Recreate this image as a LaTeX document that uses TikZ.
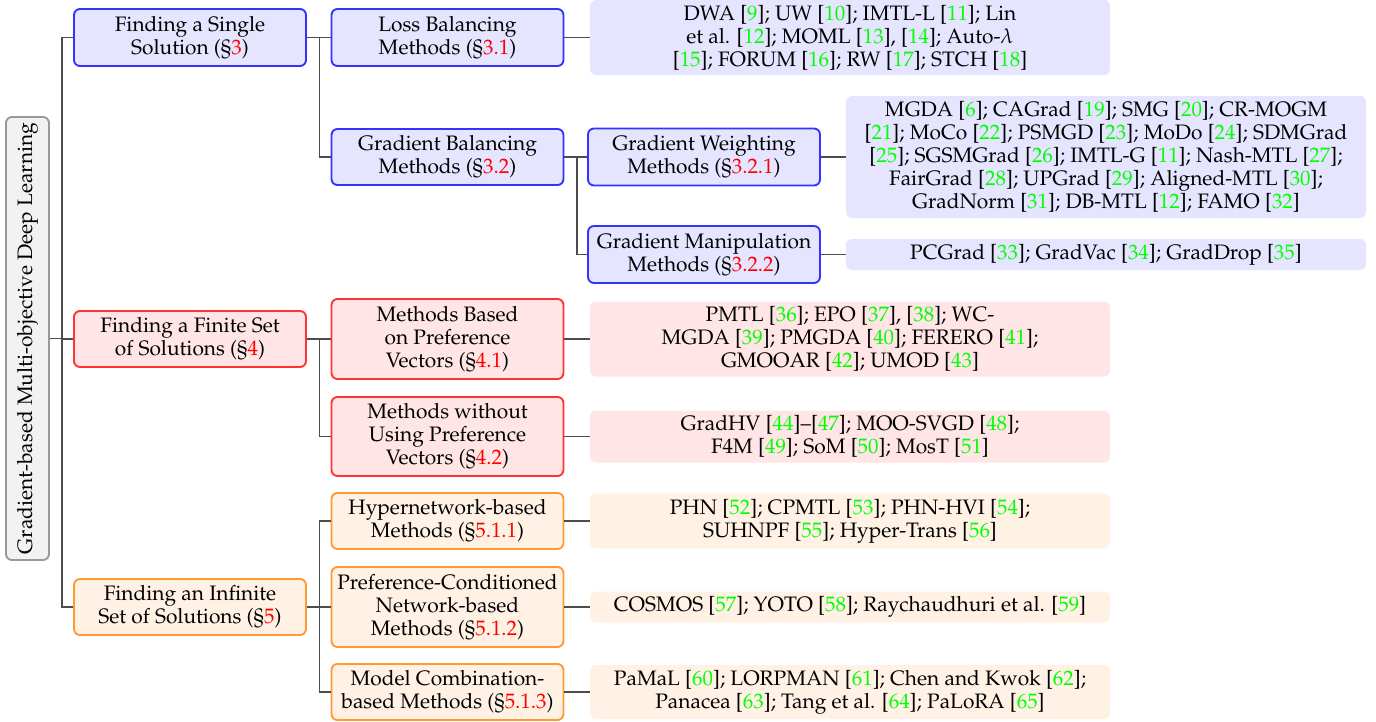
\documentclass[tikz,border=0pt]{standalone}
\usepackage[T1]{fontenc}
\usepackage{mathpazo}
\usepackage{graphicx}
\usetikzlibrary{calc}
\newcommand\myref[1]{[{\color{green}#1}]}
\newcommand\mysec[1]{(\S{\color{red}#1})}
\tikzset{
  basebox/.style={rounded corners=6pt, align=center, inner sep=0pt, font=\fontsize{20.9}{23}\selectfont},
  lvl/.style={basebox, line width=1.9pt, minimum width=232pt},
  bluebox/.style={lvl, draw=blue!80, fill=blue!10},
  redbox/.style={lvl, draw=red!80, fill=red!10},
  orangebox/.style={lvl, draw=orange!80, fill=orange!10},
  rootbox/.style={basebox, draw=gray!80, fill=gray!10, line width=1.9pt},
  leaf/.style={basebox, minimum width=520pt},
  leafblue/.style={leaf, fill=blue!10},
  leafred/.style={leaf, fill=red!10},
  leaforange/.style={leaf, fill=orange!10},
  conn/.style={draw=black!70, line width=1.3pt},
}
\begin{document}
\begin{tikzpicture}[x=1pt,y=-1pt]
\useasboundingbox (0,0) rectangle (1376,721);
% root
\node[rootbox, minimum width=43pt, minimum height=443pt] (root) at (27.5,338.5)
  {\rotatebox{90}{Gradient-based Multi-objective Deep Learning}};
% level 1
\node[bluebox, minimum height=57pt] (s1) at (190,37.5) {Finding a Single\\Solution \mysec{3}};
\node[redbox, minimum height=56pt] (f1) at (190,339) {Finding a Finite Set\\of Solutions \mysec{4}};
\node[orangebox, minimum height=56pt] (i1) at (190,607) {Finding an Infinite\\Set of Solutions \mysec{5}};
% level 2
\node[bluebox, minimum height=57pt] (lb) at (447.5,37.5) {Loss Balancing\\Methods \mysec{3.1}};
\node[bluebox, minimum height=56pt] (gb) at (447.5,157) {Gradient Balancing\\Methods \mysec{3.2}};
\node[redbox, minimum height=80pt] (pv) at (447.5,339) {Methods Based\\on Preference\\Vectors \mysec{4.1}};
\node[redbox, minimum height=79pt] (wp) at (447.5,436.5) {Methods without\\Using Preference\\Vectors \mysec{4.2}};
\node[orangebox, minimum height=56pt] (hn) at (447.5,521) {Hypernetwork-based\\Methods \mysec{5.1.1}};
\node[orangebox, minimum height=80pt] (pc) at (447.5,607) {Preference-Conditioned\\Network-based\\Methods \mysec{5.1.2}};
\node[orangebox, minimum height=56pt] (mc) at (447.5,692) {Model Combination-\\based Methods \mysec{5.1.3}};
% level 3
\node[bluebox, minimum height=57pt] (gw) at (704,157) {Gradient Weighting\\Methods \mysec{3.2.1}};
\node[bluebox, minimum height=57pt] (gm) at (704,254.5) {Gradient Manipulation\\Methods \mysec{3.2.2}};
% leaves
\node[leafblue, minimum height=75pt] (llb) at (850,37.5)
  {DWA \myref{9}; UW \myref{10}; IMTL-L \myref{11}; Lin\\et al. \myref{12}; MOML \myref{13}, \myref{14}; Auto-$\lambda$\\\myref{15}; FORUM \myref{16}; RW \myref{17}; STCH \myref{18}};
\node[leafblue, minimum height=122pt] (lgw) at (1106,157)
  {MGDA \myref{6}; CAGrad \myref{19}; SMG \myref{20}; CR-MOGM\\\myref{21}; MoCo \myref{22}; PSMGD \myref{23}; MoDo \myref{24}; SDMGrad\\\myref{25}; SGSMGrad \myref{26}; IMTL-G \myref{11}; Nash-MTL \myref{27};\\FairGrad \myref{28}; UPGrad \myref{29}; Aligned-MTL \myref{30};\\GradNorm \myref{31}; DB-MTL \myref{12}; FAMO \myref{32}};
\node[leafblue, minimum height=31pt] (lgm) at (1106,254.5)
  {PCGrad \myref{33}; GradVac \myref{34}; GradDrop \myref{35}};
\node[leafred, minimum height=75pt] (lpv) at (850,339)
  {PMTL \myref{36}; EPO \myref{37}, \myref{38}; WC-\\MGDA \myref{39}; PMGDA \myref{40}; FERERO \myref{41};\\GMOOAR \myref{42}; UMOD \myref{43}};
\node[leafred, minimum height=52pt] (lwp) at (850,436.5)
  {GradHV \myref{44}--\myref{47}; MOO-SVGD \myref{48};\\F4M \myref{49}; SoM \myref{50}; MosT \myref{51}};
\node[leaforange, minimum height=55pt] (lhn) at (850,521)
  {PHN \myref{52}; CPMTL \myref{53}; PHN-HVI \myref{54};\\SUHNPF \myref{55}; Hyper-Trans \myref{56}};
\node[leaforange, minimum height=31pt] (lpc) at (850,607)
  {COSMOS \myref{57}; YOTO \myref{58}; Raychaudhuri et al. \myref{59}};
\node[leaforange, minimum height=54pt] (lmc) at (850,692)
  {PaMaL \myref{60}; LORPMAN \myref{61}; Chen and Kwok \myref{62};\\Panacea \myref{63}; Tang et al. \myref{64}; PaLoRA \myref{65}};
% connectors
\foreach \c in {s1,f1,i1} \draw[conn] (root.east) -- ++(12,0) |- (\c.west);
\foreach \c in {lb,gb} \draw[conn] (s1.east) -- ++(12.5,0) |- (\c.west);
\foreach \c in {pv,wp} \draw[conn] (f1.east) -- ++(12.5,0) |- (\c.west);
\foreach \c in {hn,pc,mc} \draw[conn] (i1.east) -- ++(12.5,0) |- (\c.west);
\foreach \c in {gw,gm} \draw[conn] (gb.east) -- ++(12.5,0) |- (\c.west);
\draw[conn] (lb.east) -- (llb.west);
\draw[conn] (gw.east) -- (lgw.west);
\draw[conn] (gm.east) -- (lgm.west);
\draw[conn] (pv.east) -- (lpv.west);
\draw[conn] (wp.east) -- (lwp.west);
\draw[conn] (hn.east) -- (lhn.west);
\draw[conn] (pc.east) -- (lpc.west);
\draw[conn] (mc.east) -- (lmc.west);
\end{tikzpicture}
\end{document}
